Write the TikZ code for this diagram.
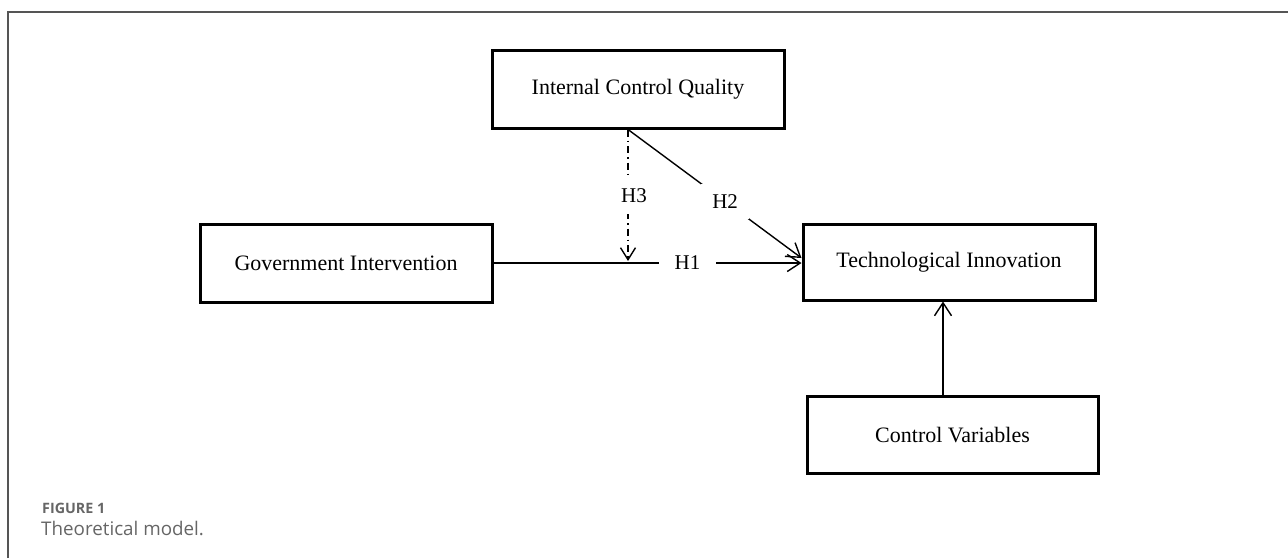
\documentclass[tikz,border=0pt]{standalone}
\usepackage{fontspec}
\setmainfont{Liberation Serif}
\newfontfamily\capfont{Open Sans}
\usetikzlibrary{arrows.meta,calc}
\definecolor{framegray}{HTML}{555555}
\definecolor{capgray}{HTML}{666666}
\tikzset{
  varbox/.style={draw=black, line width=3pt, rectangle, fill=white,
    font=\fontsize{22}{25}\selectfont, inner sep=0pt},
  conn/.style={line width=1.4pt, -{Straight Barb[length=13pt,width=17pt,line width=1.4pt]}},
  hlabel/.style={fill=white, font=\fontsize{21}{24}\selectfont, inner sep=0pt},
}
\begin{document}
\begin{tikzpicture}[x=1pt,y=-1pt]
\useasboundingbox (0,0) rectangle (1288,558);
% frame
\draw[framegray, line width=1.5pt] (8,558) -- (8,12) -- (1288,12);
% nodes
\node[varbox, minimum width=292pt, minimum height=78pt] (ICQ) at (638,89) {Internal Control Quality};
\node[varbox, minimum width=292pt, minimum height=78pt] (GI) at (346,263) {Government Intervention};
\node[varbox, minimum width=292pt, minimum height=76pt] (TI) at (949,262) {Technological Innovation};
\node[varbox, minimum width=291pt, minimum height=77pt] (CV) at (952.5,435) {Control Variables};
\coordinate (h3end) at (628,261);
\coordinate (cvx) at (943,0);
% H1
\draw[conn] (GI.east) -- node[hlabel, pos=0.63, inner xsep=16pt, inner ysep=4pt] {H1} (TI.west |- GI.east);
% H2
\draw[conn] (ICQ.south -| h3end) -- node[hlabel, pos=0.56, inner xsep=11pt, inner ysep=11pt] {H2} ($(TI.west)+(0,-4)$);
% H3
\draw[line width=1.4pt, dash pattern=on 7pt off 4pt on 1.5pt off 4pt,
  -{Straight Barb[length=12pt,width=15pt,line width=1.4pt]}]
  (ICQ.south -| h3end) -- node[hlabel, pos=0.5, xshift=6pt, inner xsep=4pt, inner ysep=12pt] {H3} (h3end);
% Control variables
\draw[conn] (CV.north -| cvx) -- (TI.south -| cvx);
% caption
\node[anchor=base west, inner sep=0pt, text=capgray, font=\capfont\bfseries\fontsize{14.3}{17}\selectfont] (fig) at (42,513) {FIGURE 1};
\node[anchor=base west, inner sep=0pt, text=capgray, font=\capfont\fontsize{18.8}{22}\selectfont] (cap) at (41,535) {Theoretical model.};
\end{tikzpicture}
\end{document}
